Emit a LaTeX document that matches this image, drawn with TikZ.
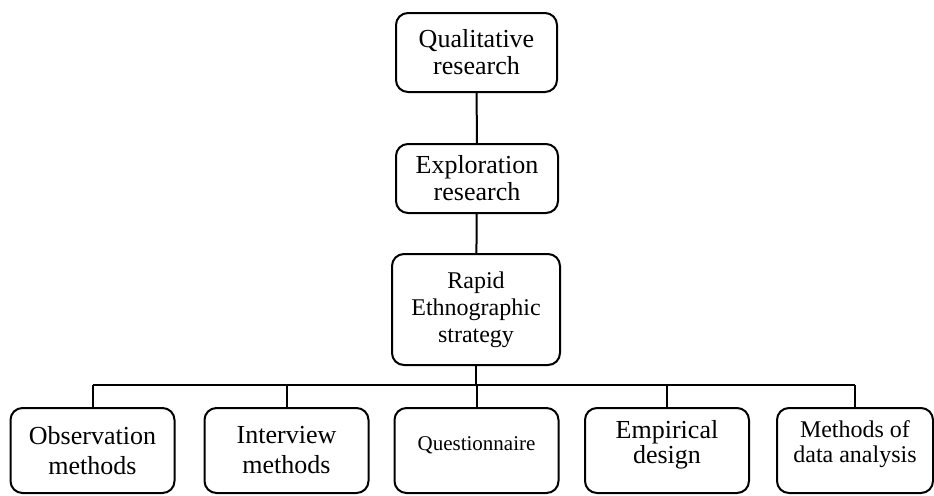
\documentclass[tikz,border=0pt]{standalone}
\usepackage{fontspec}
\setmainfont{Liberation Serif}

\begin{document}
\begin{tikzpicture}[x=0.5pt,y=-0.5pt,
  box/.style={draw, line width=1pt, rounded corners=6pt, align=center, inner sep=2pt,
    font=\fontsize{13}{13.5}\selectfont},
  lowbox/.style={box, minimum width=82pt, minimum height=42.5pt,
    font=\fontsize{13}{15}\selectfont},
  link/.style={line width=1pt}]
\useasboundingbox (0,0) rectangle (934,495);
% chain at the top
\node[box, minimum width=80.5pt, minimum height=39.5pt] (qual) at (476.5,52.5) {Qualitative\\research};
\node[box, minimum width=81pt, minimum height=34.5pt] (expl) at (477,178.5) {Exploration\\research};
\node[box, minimum width=84pt, minimum height=55.5pt, font=\fontsize{12}{13.5}\selectfont] (rapid) at (476,309.5) {Rapid\\Ethnographic\\strategy};
\coordinate (bus) at (476,385);
% row of methods
\node[lowbox] (obs) at (92.5,450.5) {Observation\\methods};
\node[lowbox] (intv) at (286.5,450.5) {Interview\\methods};
\node[lowbox, font=\fontsize{10.5}{12}\selectfont] (quest) at (476.5,450.5) {\raisebox{2.5pt}[\height][\depth]{Questionnaire}};
\node[lowbox, font=\fontsize{13}{12.5}\selectfont] (emp) at (667,450.5) {\raisebox{3pt}[\height][\depth]{Empirical}\\\raisebox{3pt}[\height][\depth]{design}};
\node[lowbox, minimum width=78pt, font=\fontsize{12}{12.5}\selectfont] (meth) at (855,450.5) {\raisebox{3pt}[\height][\depth]{Methods of}\\\raisebox{3pt}[\height][\depth]{data analysis}};
% connectors
\draw[link] (qual) -- (expl);
\draw[link] (expl) -- (rapid);
\draw[link] (rapid.south) -- (bus);
\draw[link] (obs.north |- bus) -- (meth.north |- bus);
\foreach \n in {obs,intv,quest,emp,meth}
  \draw[link] (\n.north) -- (\n.north |- bus);
\end{tikzpicture}
\end{document}
